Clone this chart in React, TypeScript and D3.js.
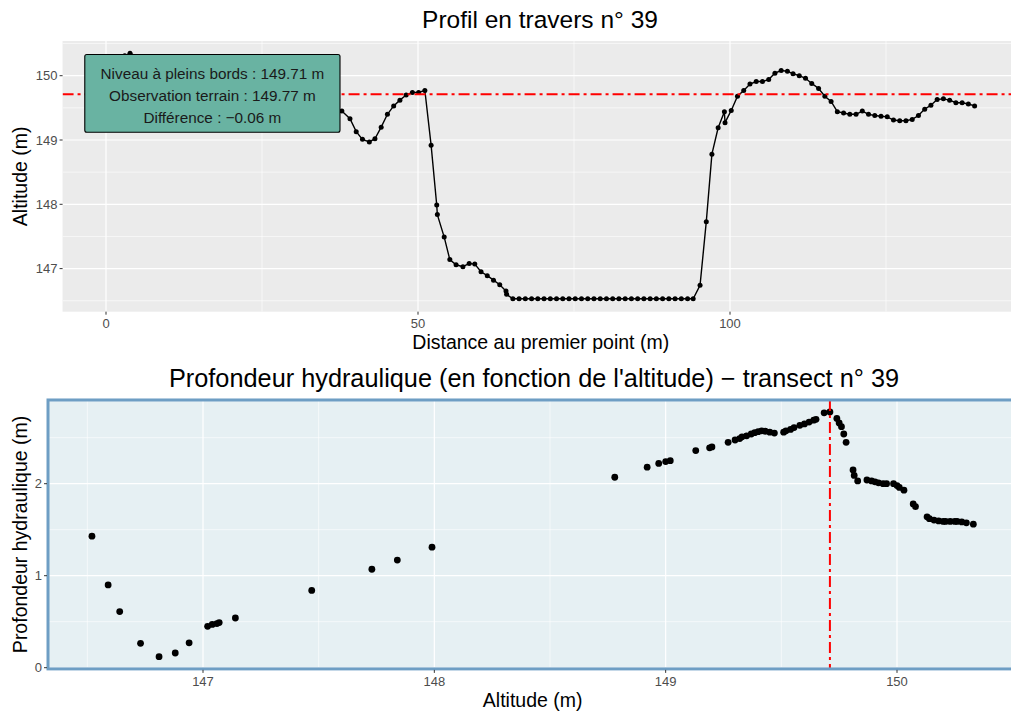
import React from 'react';
import * as d3 from 'd3';

// ─── Profil en travers : distance (m) / altitude (m) ───
const profileDist = [
  0, 1, 2, 3, 3.85, 5, 6, 7, 8, 9, 10, 11, 12, 13, 14, 15, 16, 17, 18, 19, 20, 21, 22, 23, 24, 25,
  26, 27, 28, 29, 30, 31, 32, 33, 34, 35, 36, 36.8,
  37.8, 39.1, 40.1, 41.1, 42.2, 43.1, 44.1, 45.1, 46.1, 47.1, 48.1, 49.1, 50.1, 51.1,
  52.1, 53.0, 53.1, 54.2, 55.1, 56.1, 57.2, 58.2, 59.1, 60.1, 61.1, 62.1, 63.1, 64.1, 64.2,
  65.2, 66.2, 67.2, 68.2, 69.2, 70.2, 71.2, 72.2, 73.2, 74.2, 75.2, 76.2, 77.2, 78.2, 79.2,
  80.2, 81.2, 82.2, 83.2, 84.2, 85.2, 86.2, 87.2, 88.2, 89.2, 90.2, 91.2, 92.2, 93.2, 94.1,
  95.2, 96.2, 97.1, 98.1, 99.1, 99.2, 100.2, 101.2, 102.2, 103.2, 104.2, 105.2, 106.2, 107.2,
  108.2, 109.2, 110.1, 111.1, 112.1, 113.1, 114.2, 115.2, 116.2, 117.2, 118.2, 119.2, 120.2,
  121.2, 122.2, 123.2, 124.2, 125.2, 126.2, 127.2, 128.2, 129.2, 130.2, 131.2, 132.2, 133.2,
  134.2, 135.2, 136.2, 137.2, 138.2, 139.2,
];
const profileAlt = [
  150.18, 150.22, 150.27, 150.31, 150.35, 150.3, 150.28, 150.26, 150.25, 150.23, 150.21, 150.2,
  150.21, 150.23, 150.25, 150.26, 150.28, 150.25, 150.21, 150.18, 150.16, 150.14, 150.13, 150.08,
  150.07, 150.03, 150.01, 150.0, 149.98, 149.95, 149.92, 149.9, 149.87, 149.8, 149.7, 149.62, 149.55, 149.5,
  149.45, 149.33, 149.13, 149.01, 148.97, 149.02, 149.2, 149.4, 149.53, 149.62, 149.7, 149.74, 149.74, 149.77,
  148.92, 147.99, 147.84, 147.49, 147.14, 147.06, 147.03, 147.08, 147.07, 146.95, 146.89, 146.82, 146.75, 146.65, 146.6,
  146.53, 146.53, 146.53, 146.53, 146.53, 146.53, 146.53, 146.53, 146.53, 146.53, 146.53, 146.53, 146.53, 146.53, 146.53,
  146.53, 146.53, 146.53, 146.53, 146.53, 146.53, 146.53, 146.53, 146.53, 146.53, 146.53, 146.53, 146.53, 146.53, 146.53,
  146.74, 147.73, 148.78, 149.19, 149.44, 149.27, 149.46, 149.68, 149.77, 149.87, 149.91, 149.91, 149.94, 150.04,
  150.08, 150.07, 150.03, 150.0, 149.96, 149.88, 149.8, 149.68, 149.6, 149.44, 149.42, 149.4, 149.4,
  149.45, 149.4, 149.38, 149.37, 149.36, 149.31, 149.3, 149.3, 149.32, 149.38, 149.48, 149.54, 149.63,
  149.64, 149.62, 149.58, 149.58, 149.56, 149.53,
];

const bankfull = 149.71;
const labelLines = [
  'Niveau à pleins bords : 149.71 m',
  'Observation terrain : 149.77 m',
  'Différence : \u22120.06 m',
];

// ─── Profondeur hydraulique en fonction de l'altitude ───
const depthAlt = [
  146.52, 146.59, 146.64, 146.73, 146.81, 146.88, 146.94, 147.02, 147.04, 147.06, 147.07, 147.14, 147.47,
  147.73, 147.84, 147.99,
  148.78, 148.92, 148.97, 149.0, 149.02, 149.13, 149.19, 149.2, 149.27, 149.3, 149.32, 149.33, 149.35,
  149.37, 149.385, 149.4, 149.415, 149.43, 149.45, 149.47, 149.51, 149.52, 149.54, 149.555, 149.58,
  149.6, 149.62, 149.64, 149.65, 149.685, 149.71, 149.74, 149.75, 149.76, 149.77, 149.78, 149.81,
  149.815, 149.83, 149.87, 149.89, 149.905, 149.92, 149.94, 149.955, 149.985, 150.0, 150.01, 150.03,
  150.07, 150.08, 150.13, 150.14, 150.16, 150.18, 150.2, 150.21, 150.23, 150.25, 150.26, 150.28, 150.3, 150.33,
];
const depthVal = [
  1.43, 0.9, 0.61, 0.265, 0.12, 0.16, 0.27, 0.45, 0.47, 0.48, 0.49, 0.54, 0.84,
  1.07, 1.17, 1.31,
  2.07, 2.18, 2.22, 2.24, 2.25, 2.36, 2.39, 2.4, 2.45, 2.475, 2.49, 2.51, 2.52,
  2.54, 2.555, 2.565, 2.575, 2.57, 2.56, 2.55, 2.56, 2.575, 2.59, 2.61, 2.635,
  2.65, 2.67, 2.69, 2.7, 2.77, 2.78, 2.71, 2.66, 2.62, 2.54, 2.45, 2.15,
  2.09, 2.03, 2.04, 2.03, 2.02, 2.01, 2.0, 2.0, 2.0, 1.98, 1.96, 1.93,
  1.78, 1.75, 1.64, 1.62, 1.605, 1.595, 1.59, 1.59, 1.59, 1.59, 1.59, 1.585, 1.575, 1.56,
];

const topXMajor = [0, 50, 100, 150];
const topXMinor = [-25, 25, 75, 125];
const topYMajor = [147, 148, 149, 150];
const topYMinor = [146.5, 147.5, 148.5, 149.5, 150.5];
const botXMajor = [147, 148, 149, 150];
const botXMinor = [146.5, 147.5, 148.5, 149.5, 150.5];
const botYMajor = [0, 1, 2];
const botYMinor = [0.5, 1.5, 2.5];

const FONT = '"Liberation Sans", Arial, Helvetica, sans-serif';

export default function App() {
  // échelles du profil
  const x1 = d3.scaleLinear().domain([0, 100]).range([106, 730]);
  const y1 = d3.scaleLinear().domain([147, 150]).range([268.6, 75.7]);
  const p1 = { l: x1(-6.96), r: x1(146.3), t: y1(150.54), b: y1(146.33) };

  // échelles de la profondeur
  const x2 = d3.scaleLinear().domain([147, 150]).range([203, 897]);
  const y2 = d3.scaleLinear().domain([0, 2]).range([667.7, 483.7]);
  const p2 = { l: x2(146.33), r: x2(150.52), t: y2(2.91), b: y2(-0.013) };

  const line = d3.line<number>()
    .x((_, i) => x1(profileDist[i]))
    .y(d => y1(d));

  const boxX = x1(-3.4), boxY = y1(150.33);
  const boxW = x1(37.5) - boxX, boxH = y1(149.12) - boxY;

  return (
    <svg width={1011} height={712}
      style={{ position: 'absolute', left: 0, top: 0, background: '#fff' }}
      fontFamily={FONT}>
      <defs>
        <clipPath id="c1"><rect x={p1.l} y={p1.t} width={p1.r - p1.l} height={p1.b - p1.t} /></clipPath>
        <clipPath id="c2"><rect x={p2.l} y={p2.t} width={p2.r - p2.l} height={p2.b - p2.t} /></clipPath>
      </defs>

      {/* ─── Profil en travers ─── */}
      <text x={540} y={28} textAnchor="middle" fontSize={24.5} fill="#000">Profil en travers n° 39</text>
      <rect x={p1.l} y={p1.t} width={p1.r - p1.l} height={p1.b - p1.t} fill="#EBEBEB" />
      <g clipPath="url(#c1)">
        {topXMinor.map(v => <line key={'xm' + v} x1={x1(v)} x2={x1(v)} y1={p1.t} y2={p1.b} stroke="#fff" strokeWidth={0.6} />)}
        {topYMinor.map(v => <line key={'ym' + v} x1={p1.l} x2={p1.r} y1={y1(v)} y2={y1(v)} stroke="#fff" strokeWidth={0.6} />)}
        {topXMajor.map(v => <line key={'xM' + v} x1={x1(v)} x2={x1(v)} y1={p1.t} y2={p1.b} stroke="#fff" strokeWidth={1.2} />)}
        {topYMajor.map(v => <line key={'yM' + v} x1={p1.l} x2={p1.r} y1={y1(v)} y2={y1(v)} stroke="#fff" strokeWidth={1.2} />)}
        <path d={line(profileAlt) ?? ''} fill="none" stroke="#000" strokeWidth={1.4} />
        {profileAlt.map((a, i) => <circle key={i} cx={x1(profileDist[i])} cy={y1(a)} r={2.5} fill="#000" />)}
        <line x1={p1.l} x2={p1.r} y1={y1(bankfull)} y2={y1(bankfull)} stroke="#FF0000" strokeWidth={2} strokeDasharray="11,4,3,4" />
      </g>
      <rect x={boxX} y={boxY} width={boxW} height={boxH} rx={2} fill="#69B3A2" stroke="#000" strokeWidth={1.1} />
      {labelLines.map((t, i) => (
        <text key={t} x={boxX + boxW / 2} y={boxY + 25 + i * 22} textAnchor="middle" fontSize={15.3} fill="#1A1A1A">{t}</text>
      ))}
      {topYMajor.map(v => (
        <g key={'ty' + v}>
          <line x1={p1.l - 3} x2={p1.l} y1={y1(v)} y2={y1(v)} stroke="#333" />
          <text x={p1.l - 5} y={y1(v) + 4.5} textAnchor="end" fontSize={13} fill="#4D4D4D">{v}</text>
        </g>
      ))}
      {topXMajor.filter(v => x1(v) < 1011).map(v => (
        <g key={'tx' + v}>
          <line x1={x1(v)} x2={x1(v)} y1={p1.b} y2={p1.b + 3} stroke="#333" />
          <text x={x1(v)} y={p1.b + 16} textAnchor="middle" fontSize={13} fill="#4D4D4D">{v}</text>
        </g>
      ))}
      <text x={(p1.l + p1.r) / 2} y={349} textAnchor="middle" fontSize={19.5} fill="#000">Distance au premier point (m)</text>
      <text transform={`translate(27,${(p1.t + p1.b) / 2}) rotate(-90)`} textAnchor="middle" fontSize={19.5} fill="#000">Altitude (m)</text>

      {/* ─── Profondeur hydraulique ─── */}
      <text x={534} y={387} textAnchor="middle" fontSize={25.3} fill="#000">Profondeur hydraulique (en fonction de l'altitude) {'\u2212'} transect n° 39</text>
      <rect x={p2.l} y={p2.t} width={p2.r - p2.l} height={p2.b - p2.t} fill="#E6F0F3" />
      <g clipPath="url(#c2)">
        {botXMinor.map(v => <line key={'bxm' + v} x1={x2(v)} x2={x2(v)} y1={p2.t} y2={p2.b} stroke="#fff" strokeWidth={0.6} />)}
        {botYMinor.map(v => <line key={'bym' + v} x1={p2.l} x2={p2.r} y1={y2(v)} y2={y2(v)} stroke="#fff" strokeWidth={0.6} />)}
        {botXMajor.map(v => <line key={'bxM' + v} x1={x2(v)} x2={x2(v)} y1={p2.t} y2={p2.b} stroke="#fff" strokeWidth={1.2} />)}
        {botYMajor.map(v => <line key={'byM' + v} x1={p2.l} x2={p2.r} y1={y2(v)} y2={y2(v)} stroke="#fff" strokeWidth={1.2} />)}
        {depthVal.map((d, i) => <circle key={i} cx={x2(depthAlt[i])} cy={y2(d)} r={3.4} fill="#000" />)}
        <line x1={x2(bankfull)} x2={x2(bankfull)} y1={p2.t} y2={p2.b} stroke="#FF0000" strokeWidth={2} strokeDasharray="11,4,3,4" />
      </g>
      <rect x={p2.l} y={p2.t} width={p2.r - p2.l} height={p2.b - p2.t} fill="none" stroke="#6E9EC4" strokeWidth={3} />
      {botYMajor.map(v => (
        <g key={'by' + v}>
          <line x1={p2.l - 4} x2={p2.l - 1} y1={y2(v)} y2={y2(v)} stroke="#333" />
          <text x={p2.l - 6} y={y2(v) + 4.5} textAnchor="end" fontSize={13} fill="#4D4D4D">{v}</text>
        </g>
      ))}
      {botXMajor.map(v => (
        <g key={'bx' + v}>
          <line x1={x2(v)} x2={x2(v)} y1={p2.b + 1} y2={p2.b + 4} stroke="#333" />
          <text x={x2(v)} y={p2.b + 17} textAnchor="middle" fontSize={13} fill="#4D4D4D">{v}</text>
        </g>
      ))}
      <text x={(p2.l + p2.r) / 2} y={707} textAnchor="middle" fontSize={19.5} fill="#000">Altitude (m)</text>
      <text transform={`translate(27,${(p2.t + p2.b) / 2}) rotate(-90)`} textAnchor="middle" fontSize={19.5} fill="#000">Profondeur hydraulique (m)</text>
    </svg>
  );
}
